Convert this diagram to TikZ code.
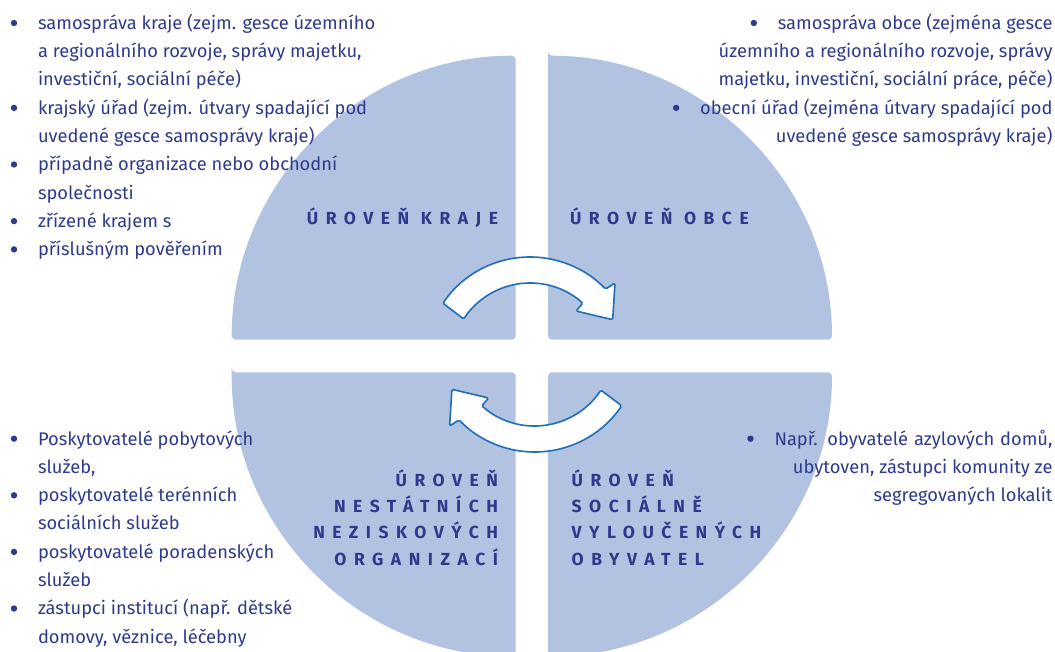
\documentclass[tikz,border=0pt]{standalone}
\usepackage{fontspec}
\setmainfont{Fira Sans}
\newfontfamily\labelfont[LetterSpace=43]{Fira Sans}
\usetikzlibrary{calc}
\definecolor{quad}{RGB}{178,194,225}
\definecolor{txt}{RGB}{46,58,140}
\definecolor{arr}{RGB}{31,110,182}
\tikzset{
  quadrant/.style={fill=quad, rounded corners=4pt},
  body/.style={text=txt, font=\fontsize{18.3}{20}\selectfont, inner sep=0pt, outer sep=0pt},
  lefttext/.style={body, anchor=base west},
  righttext/.style={body, anchor=base east},
  level/.style={text=txt, font=\labelfont\bfseries\fontsize{17.5}{20}\selectfont, inner sep=0pt, outer sep=0pt},
  levelR/.style={level, anchor=base east},
  levelL/.style={level, anchor=base west},
  bulletdot/.style={fill=txt},
  cyclearrow/.style={fill=white, draw=arr, line width=1.6pt, line join=round, rounded corners=1.5pt}
}
\begin{document}
\begin{tikzpicture}[x=1pt,y=-1pt]
\useasboundingbox (0,0) rectangle (1055,652);
\clip (0,0) rectangle (1055,652);
% quadrants
\fill[quadrant] (231.7,339.7) -- (515.7,339.7) -- (515.7,55.7) arc[start angle=270, end angle=180, radius=284] -- cycle;
\fill[quadrant] (548,55.7) -- (548,339.7) -- (832,339.7) arc[start angle=0, end angle=-90, radius=284] -- cycle;
\fill[quadrant] (231.7,372.3) -- (515.7,372.3) -- (515.7,656.3) arc[start angle=90, end angle=180, radius=284] -- cycle;
\fill[quadrant] (548,656.3) -- (548,372.3) -- (832,372.3) arc[start angle=0, end angle=90, radius=284] -- cycle;
% arrows
\coordinate (ta) at (530,362);
\coordinate (ba) at (534.6,347);
\draw[cyclearrow] ($(ta)+(214:105)$) arc[start angle=214, end angle=316, radius=105]
  -- (615,283) -- (612.7,319.7) -- (576,311) -- ($(ta)+(312:79)$)
  arc[start angle=312, end angle=213, radius=79] -- cycle;
\draw[cyclearrow] ($(ba)+(34:105)$) arc[start angle=34, end angle=136, radius=105]
  -- (449.6,426) -- (451.9,389.3) -- (488.6,398) -- ($(ba)+(132:79)$)
  arc[start angle=132, end angle=33, radius=79] -- cycle;
% level labels
\node[levelR] (lk) at (498,225) {ÚROVEŇ KRAJE};
\node[levelL] (lo) at (570,225) {ÚROVEŇ OBCE};
\node[levelR] (ln1) at (498,486) {ÚROVEŇ};
\node[levelR] (ln2) at (498,512.3) {NESTÁTNÍCH};
\node[levelR] (ln3) at (498,538.6) {NEZISKOVÝCH};
\node[levelR] (ln4) at (498,565) {ORGANIZACÍ};
\node[levelL] (ls1) at (571.7,486) {ÚROVEŇ};
\node[levelL] (ls2) at (571.7,512.3) {SOCIÁLNĚ};
\node[levelL] (ls3) at (571.7,538.6) {VYLOUČENÝCH};
\node[levelL] (ls4) at (571.7,565) {OBYVATEL};
% top-left text
\node[lefttext] (tl1) at (38,29.3) {samospráva kraje (zejm. gesce územního};
\node[lefttext] (tl2) at (38,57.6) {a regionálního rozvoje, správy majetku,};
\node[lefttext] (tl3) at (38,85.9) {investiční, sociální péče)};
\node[lefttext] (tl4) at (38,114.2) {krajský úřad (zejm. útvary spadající pod};
\node[lefttext] (tl5) at (38,142.5) {uvedené gesce samosprávy kraje)};
\node[lefttext] (tl6) at (38,170.8) {případně organizace nebo obchodní};
\node[lefttext] (tl7) at (38,199.1) {společnosti};
\node[lefttext] (tl8) at (38,227.4) {zřízené krajem s};
\node[lefttext] (tl9) at (38,255.7) {příslušným pověřením};
\foreach \n in {tl1,tl4,tl6,tl8,tl9}
  \fill[bulletdot] ($(\n.base west)+(-24,-6.3)$) circle[radius=3.2];
% top-right text
\node[righttext] (tr1) at (1052.5,29.3) {samospráva obce (zejména gesce};
\node[righttext] (tr2) at (1052.5,57.6) {územního a regionálního rozvoje, správy};
\node[righttext] (tr3) at (1052.5,85.9) {majetku, investiční, sociální práce, péče)};
\node[righttext] (tr4) at (1052.5,114.2) {obecní úřad (zejména útvary spadající pod};
\node[righttext] (tr5) at (1052.5,142.5) {uvedené gesce samosprávy kraje)};
\foreach \n in {tr1,tr4}
  \fill[bulletdot] ($(\n.base west)+(-24,-6.3)$) circle[radius=3.2];
% bottom-left text
\node[lefttext] (bl1) at (38,445) {Poskytovatelé pobytových};
\node[lefttext] (bl2) at (38,473.3) {služeb,};
\node[lefttext] (bl3) at (38,501.6) {poskytovatelé terénních};
\node[lefttext] (bl4) at (38,529.9) {sociálních služeb};
\node[lefttext] (bl5) at (38,558.2) {poskytovatelé poradenských};
\node[lefttext] (bl6) at (38,586.5) {služeb};
\node[lefttext] (bl7) at (38,614.8) {zástupci institucí (např. dětské};
\node[lefttext] (bl8) at (38,643.1) {domovy, věznice, léčebny};
\foreach \n in {bl1,bl3,bl5,bl7}
  \fill[bulletdot] ($(\n.base west)+(-24,-6.3)$) circle[radius=3.2];
% bottom-right text
\node[righttext] (br1) at (1052.5,445) {\makebox[278pt][s]{Např. obyvatelé azylových domů,}};
\node[righttext] (br2) at (1052.5,473.3) {ubytoven, zástupci komunity ze};
\node[righttext] (br3) at (1052.5,501.6) {segregovaných lokalit};
\fill[bulletdot] ($(br1.base west)+(-24,-6.3)$) circle[radius=3.2];
\end{tikzpicture}
\end{document}
